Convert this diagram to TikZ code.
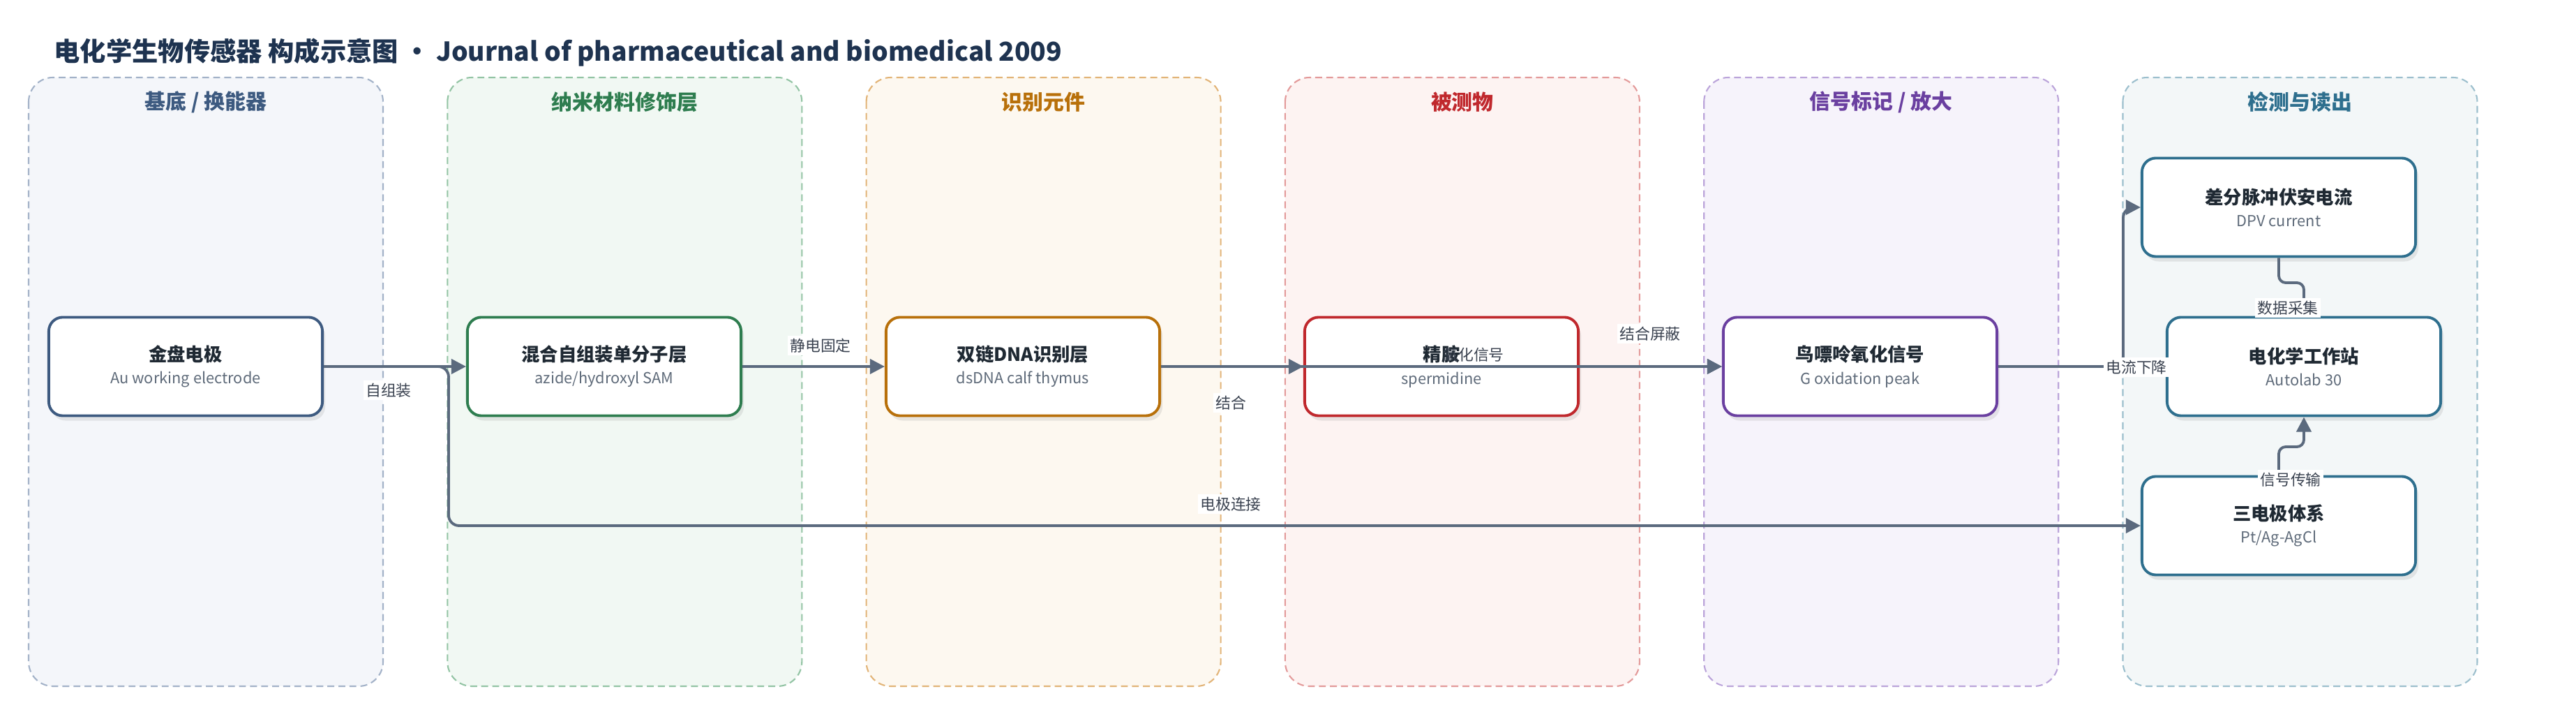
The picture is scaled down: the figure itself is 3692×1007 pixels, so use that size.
\documentclass[tikz,border=0pt]{standalone}
\usepackage{fontspec}
\setmainfont{Noto Sans CJK SC}
\usetikzlibrary{arrows.meta, shadows}

\definecolor{ttl}{HTML}{1E3350}
\definecolor{txt}{HTML}{1F2933}
\definecolor{sub}{HTML}{5F6B7A}
\definecolor{edge}{HTML}{5B6A7E}
\definecolor{lbltxt}{HTML}{3A4250}
% lane colours: border / fill / title
\definecolor{bA}{HTML}{A3B2C8}\definecolor{fA}{HTML}{F4F6FA}\definecolor{tA}{HTML}{3D5A80}
\definecolor{bB}{HTML}{93C4A4}\definecolor{fB}{HTML}{F1F8F3}\definecolor{tB}{HTML}{2E7D4F}
\definecolor{bC}{HTML}{E2B478}\definecolor{fC}{HTML}{FDF8F0}\definecolor{tC}{HTML}{B8700A}
\definecolor{bD}{HTML}{E39A9A}\definecolor{fD}{HTML}{FDF3F2}\definecolor{tD}{HTML}{C0282D}
\definecolor{bE}{HTML}{BBA4DA}\definecolor{fE}{HTML}{F6F3FB}\definecolor{tE}{HTML}{6A3FA0}
\definecolor{bF}{HTML}{9CBFCD}\definecolor{fF}{HTML}{F3F7F8}\definecolor{tF}{HTML}{2E6F8E}

\newcommand{\bx}[2]{{\fontsize{7.5}{9.2}\selectfont\bfseries\color{txt}#1}\\{\color{sub}#2}}

\tikzset{
  lane/.style={line width=0.6pt, dash pattern=on 2.8pt off 1.7pt, rounded corners=0.35cm},
  box/.style={draw, line width=1.1pt, rounded corners=0.2cm, fill=white,
    minimum width=3.92cm, minimum height=1.41cm, align=center,
    font=\fontsize{6.2}{9.2}\selectfont,
    drop shadow={opacity=0.16, shadow xshift=0.04cm, shadow yshift=-0.07cm}},
  ed/.style={draw=edge, line width=1.1pt, -{Triangle[length=6pt,width=6pt]}},
  lbl/.style={fill=white, inner sep=1pt, text=lbltxt, font=\fontsize{6.2}{7}\selectfont}
}

\begin{document}
\begin{tikzpicture}[x=0.01cm, y=-0.01cm]
\useasboundingbox (0,0) rectangle (3692,1007);

\node[anchor=west, inner sep=0pt, text=ttl, font=\fontsize{10.6}{12}\selectfont\bfseries] (title) at (77,75)
  {电化学生物传感器 构成示意图 • Journal of pharmaceutical and biomedical 2009};

% lanes
\foreach \i/\c/\t in {0/A/{基底 / 换能器}, 1/B/{纳米材料修饰层}, 2/C/{识别元件},
                      3/D/{被测物}, 4/E/{信号标记 / 放大}, 5/F/{检测与读出}} {
  \pgfmathsetmacro\lx{41+600.3*\i}
  \draw[lane, draw=b\c, fill=f\c] (\lx,111) rectangle ({\lx+508},983);
  \node[text=t\c, font=\fontsize{8.5}{10}\selectfont\bfseries] (lt\c) at ({\lx+254},146) {\t};
}

% nodes
\node[box, draw=tA] (gold) at (266,525) {\bx{金盘电极}{Au working electrode}};
\node[box, draw=tB] (sam) at (866,525) {\bx{混合自组装单分子层}{azide/hydroxyl SAM}};
\node[box, draw=tC] (dna) at (1466,525) {\bx{双链DNA识别层}{dsDNA calf thymus}};
\node[box, draw=tD] (spd) at (2066,525) {\bx{精胺}{spermidine}};
\node[box, draw=tE] (gox) at (2666,525) {\bx{鸟嘌呤氧化信号}{G oxidation peak}};
\node[box, draw=tF] (dpv) at (3266,297) {\bx{差分脉冲伏安电流}{DPV current}};
\node[box, draw=tF] (auto) at (3302,525) {\bx{电化学工作站}{Autolab 30}};
\node[box, draw=tF] (cell) at (3266,753) {\bx{三电极体系}{Pt/Ag-AgCl}};

% connectors
\draw[ed] (gold) -- (sam);
\draw[ed, rounded corners=0.15cm] (gold.east) -- (643,525) -- (643,753) -- (cell.west);
\draw[ed] (sam) -- (dna);
\draw[ed] (dna) -- (spd);
\draw[ed] (dna.east) -- (gox.west);
\draw[ed] (spd) -- (gox);
\draw[ed, rounded corners=0.15cm] (gox.east) -- (3043,525) -- (3043,297) -- (dpv.west);
\draw[ed, rounded corners=0.1cm] (dpv.south) -- (3266,405) -- (3302,405) -- (auto.north);
\draw[ed, rounded corners=0.1cm] (cell.north) -- (3266,640) -- (3302,640) -- (auto.south);

% labels
\node[lbl] (l1) at (557,559) {自组装};
\node[lbl] (l2) at (1176,495) {静电固定};
\node[lbl] (l3) at (1764,577) {结合};
\node[lbl, fill=none] (l4) at (2112,508) {氧化信号};
\node[lbl] (l5) at (2365,478) {结合屏蔽};
\node[lbl] (l6) at (3062,526) {电流下降};
\node[lbl] (l7) at (1764,722) {电极连接};
\node[lbl] (l8) at (3279,441) {数据采集};
\node[lbl] (l9) at (3283,687) {信号传输};
\end{tikzpicture}
\end{document}
